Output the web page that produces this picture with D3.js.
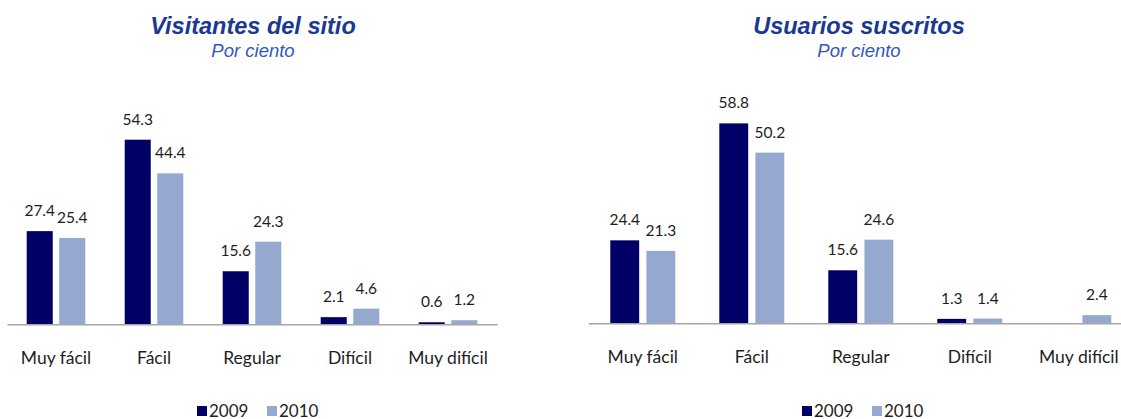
<!DOCTYPE html>
<html>
<head>
<meta charset="utf-8">
<script src="https://cdn.jsdelivr.net/npm/d3@7"></script>
<style>
  html, body { margin: 0; padding: 0; background: #ffffff; }
  svg { display: block; }
</style>
</head>
<body>
<svg id="chart" width="1121" height="419"></svg>
<script>
// ---- data ----
const categories = ["Muy fácil", "Fácil", "Regular", "Difícil", "Muy difícil"];
const seriesNames = ["2009", "2010"];
const visitantes2009 = [27.4, 54.3, 15.6, 2.1, 0.6];
const visitantes2010 = [25.4, 44.4, 24.3, 4.6, 1.2];
const usuarios2009 = [24.4, 58.8, 15.6, 1.3, null];
const usuarios2010 = [21.3, 50.2, 24.6, 1.4, 2.4];
const titles = ["Visitantes del sitio", "Usuarios suscritos"];
const subtitle = "Por ciento";

// ---- styles / layout ----
const colors = d3.scaleOrdinal().domain(seriesNames).range(["#000066", "#95a9d0"]);
const svg = d3.select("#chart");

const panels = [
  { title: titles[0], values: [visitantes2009, visitantes2010],
    x0: 7, band: 98, inner: 19.7, base: 324.3, titleX: 253, legendX: 197 },
  { title: titles[1], values: [usuarios2009, usuarios2010],
    x0: 588.3, band: 109, inner: 22, base: 323.3, titleX: 859, legendX: 802 }
];

panels.forEach(p => {
  const g = svg.append("g");
  const x = d3.scaleBand().domain(categories)
    .range([p.x0, p.x0 + p.band * categories.length]).padding(0);
  const xs = d3.scaleBand().domain(seriesNames)
    .range([p.inner, p.band - p.inner]).paddingInner(0.2).paddingOuter(0);
  const y = d3.scaleLinear().domain([0, 60]).range([p.base, p.base - 204]);

  // titles
  g.append("text").attr("x", p.titleX).attr("y", 34)
    .attr("text-anchor", "middle")
    .style("font-family", "'Liberation Sans', Arial, sans-serif")
    .style("font-size", "23.5px").style("font-weight", "bold").style("font-style", "italic")
    .style("fill", "#1b3894").text(p.title);
  g.append("text").attr("x", p.titleX).attr("y", 56.5)
    .attr("text-anchor", "middle")
    .style("font-family", "'Liberation Sans', Arial, sans-serif")
    .style("font-size", "18.5px").style("font-style", "italic")
    .style("fill", "#3558bb").text(subtitle);

  // bars
  const rows = [];
  seriesNames.forEach((s, si) => {
    categories.forEach((c, ci) => {
      const v = p.values[si][ci];
      if (v !== null && v !== undefined) rows.push({ s, c, v });
    });
  });

  g.selectAll("rect.bar").data(rows).enter().append("rect")
    .attr("class", "bar")
    .attr("x", d => x(d.c) + xs(d.s))
    .attr("width", xs.bandwidth())
    .attr("y", d => y(d.v))
    .attr("height", d => y(0) - y(d.v))
    .attr("fill", d => colors(d.s));

  g.selectAll("text.val").data(rows).enter().append("text")
    .attr("class", "val")
    .attr("x", d => x(d.c) + xs(d.s) + xs.bandwidth() / 2)
    .attr("y", d => y(d.v) - 15)
    .attr("text-anchor", "middle")
    .style("font-family", "Lato, 'Open Sans', sans-serif")
    .style("font-size", "15.5px")
    .style("fill", "#1e1e1e")
    .text(d => d.v.toFixed(1));

  // axis
  const axis = g.append("g").attr("transform", `translate(0,${p.base})`)
    .call(d3.axisBottom(x).tickSize(0).tickSizeOuter(0));
  axis.select(".domain").attr("stroke", "#a6a6a6").attr("stroke-width", 1.5);
  axis.selectAll(".tick text")
    .attr("y", 40).attr("dy", 0)
    .style("font-family", "Lato, 'Open Sans', sans-serif")
    .style("font-size", "17.5px")
    .style("fill", "#1e1e1e");

  // legend
  const lg = g.append("g").attr("transform", `translate(${p.legendX},0)`);
  seriesNames.forEach((s, i) => {
    const item = lg.append("g").attr("transform", `translate(${i * 70},0)`);
    item.append("rect").attr("x", 0).attr("y", 406).attr("width", 10).attr("height", 10)
      .attr("fill", colors(s));
    item.append("text").attr("x", 12).attr("y", 416.5)
      .style("font-family", "Lato, 'Open Sans', sans-serif")
      .style("font-size", "17px").style("fill", "#1e1e1e").text(s);
  });
});
</script>
</body>
</html>
